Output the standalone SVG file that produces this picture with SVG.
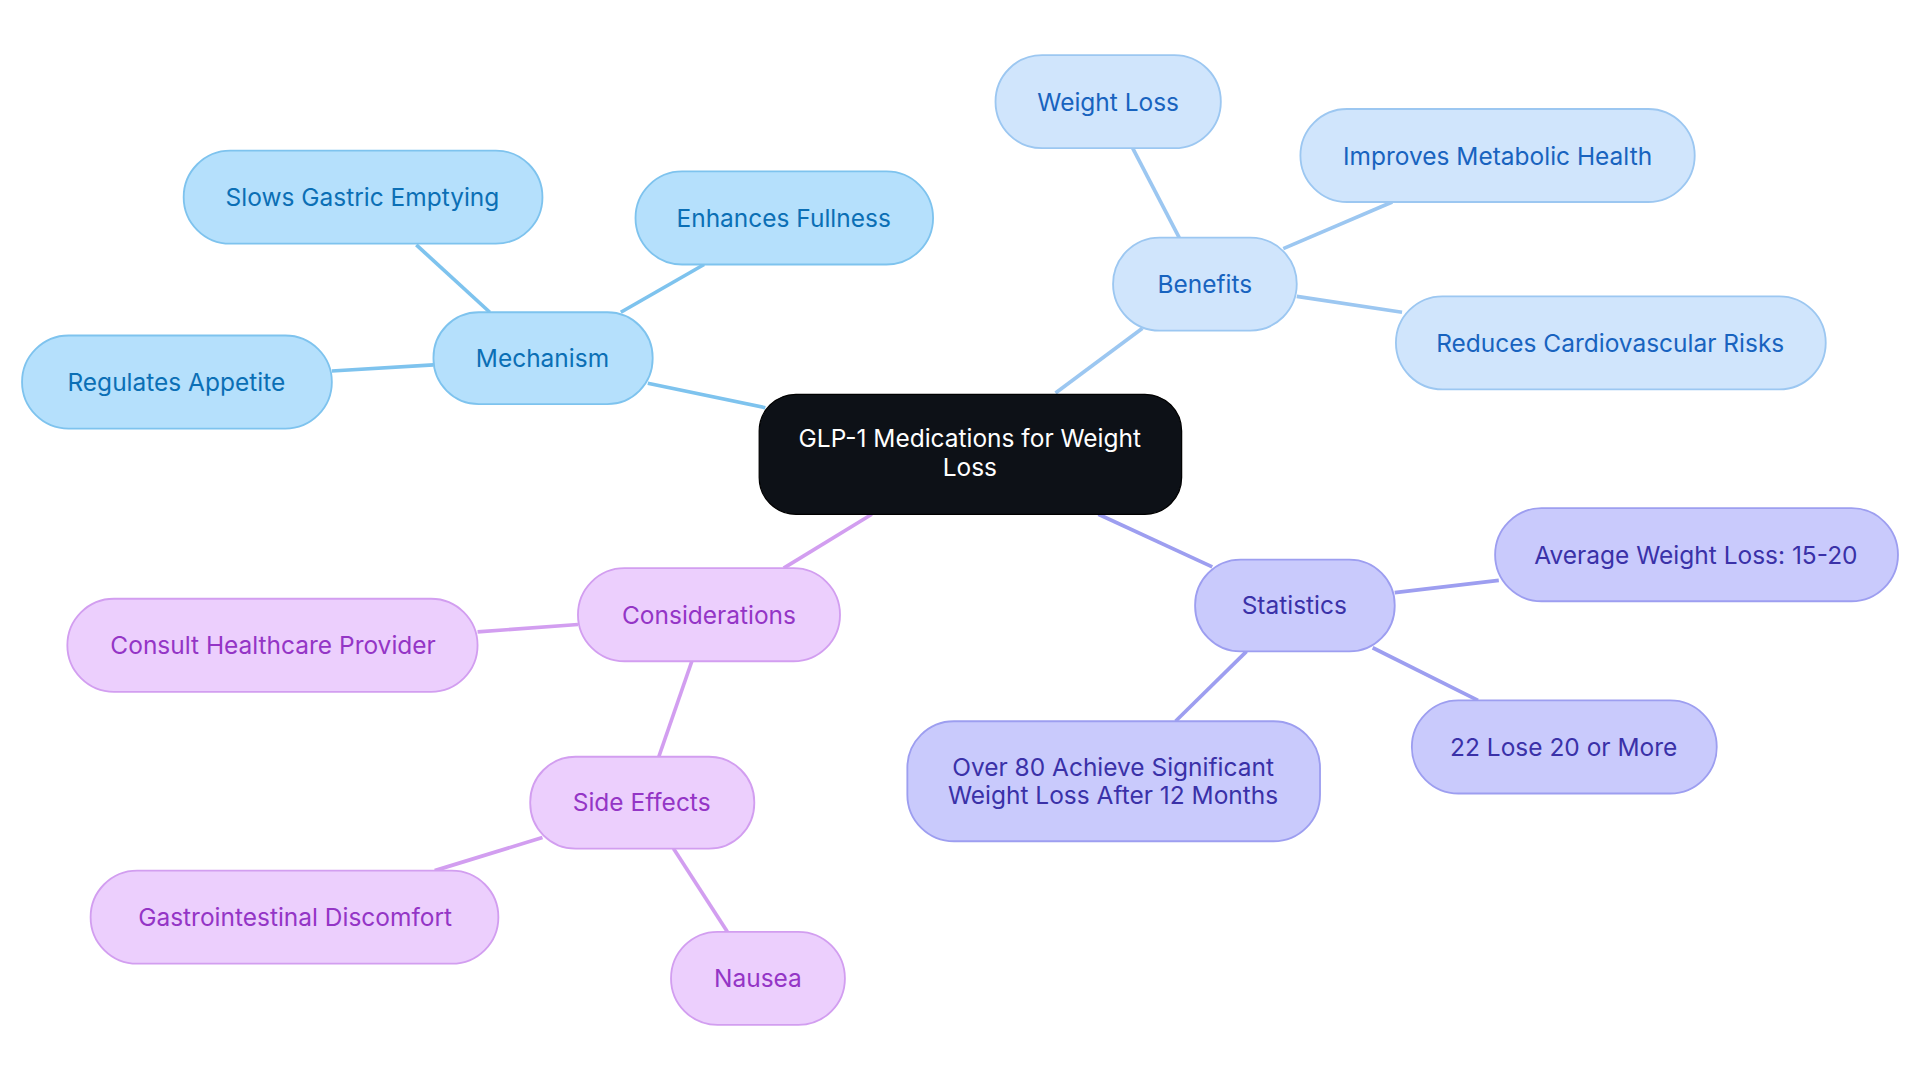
<svg xmlns="http://www.w3.org/2000/svg" width="1920" height="1083" viewBox="0 0 1920 1083">
<style>
text{font-family:Inter,"Noto Sans",sans-serif;font-size:20px;text-anchor:middle;dominant-baseline:central}
.b rect{fill:#b5e0fc;stroke:#7ec3ee;stroke-width:1.5}.b text{fill:#0b6fb5}
.l rect{fill:#d0e5fc;stroke:#9cc7f1;stroke-width:1.5}.l text{fill:#1863bf}
.s rect{fill:#c9cafc;stroke:#9d9ef0;stroke-width:1.5}.s text{fill:#3a31a8}
.p rect{fill:#eccffd;stroke:#d29ef0;stroke-width:1.5}.p text{fill:#9435c6}
#edges line{stroke-width:3}
.eb{stroke:#7ec3ee}.el{stroke:#9cc7f1}.es{stroke:#9d9ef0}.ep{stroke:#d29ef0}
</style>
<rect width="1920" height="1083" fill="#fff"/>
<g transform="scale(1.2245)">
<g id="edges">
<line class="eb" x1="625" y1="333" x2="529" y2="313"/>
<line class="eb" x1="400" y1="255" x2="340" y2="200"/>
<line class="eb" x1="507" y1="255" x2="575" y2="216"/>
<line class="eb" x1="354" y1="298" x2="271" y2="303"/>
<line class="el" x1="862" y1="321" x2="933" y2="268"/>
<line class="el" x1="963" y1="194" x2="925" y2="121"/>
<line class="el" x1="1048" y1="203" x2="1137" y2="165"/>
<line class="el" x1="1059" y1="242" x2="1145" y2="255"/>
<line class="es" x1="897" y1="420" x2="990" y2="463"/>
<line class="es" x1="1139" y1="484" x2="1224" y2="474"/>
<line class="es" x1="1121" y1="529" x2="1207" y2="572"/>
<line class="es" x1="1018" y1="532" x2="960" y2="589"/>
<line class="ep" x1="712" y1="420" x2="640" y2="464"/>
<line class="ep" x1="472" y1="510" x2="390" y2="516"/>
<line class="ep" x1="565" y1="540" x2="538" y2="618"/>
<line class="ep" x1="443" y1="684" x2="355" y2="711"/>
<line class="ep" x1="550" y1="693" x2="594" y2="761"/>
</g>
<g id="center"><rect x="620" y="322" width="345" height="98" rx="30" fill="#0d1117" stroke="#000"/><text x="792" y="358" fill="#fff">GLP-1 Medications for Weight</text><text x="792" y="381" fill="#fff">Loss</text></g>
<g id="mechanism" class="b"><rect x="354" y="255" width="179" height="75" rx="37"/><text x="443" y="292">Mechanism</text></g>
<g id="slows" class="b"><rect x="150" y="123" width="293" height="76" rx="38"/><text x="296" y="161">Slows Gastric Emptying</text></g>
<g id="enhances" class="b"><rect x="519" y="140" width="243" height="76" rx="38"/><text x="640" y="178">Enhances Fullness</text></g>
<g id="regulates" class="b"><rect x="18" y="274" width="253" height="76" rx="38"/><text x="144" y="312">Regulates Appetite</text></g>
<g id="benefits" class="l"><rect x="909" y="194" width="150" height="76" rx="38"/><text x="984" y="232">Benefits</text></g>
<g id="weightloss" class="l"><rect x="813" y="45" width="184" height="76" rx="38"/><text x="905" y="83">Weight Loss</text></g>
<g id="metabolic" class="l"><rect x="1062" y="89" width="322" height="76" rx="38"/><text x="1223" y="127">Improves Metabolic Health</text></g>
<g id="cardio" class="l"><rect x="1140" y="242" width="351" height="76" rx="38"/><text x="1315" y="280">Reduces Cardiovascular Risks</text></g>
<g id="statistics" class="s"><rect x="976" y="457" width="163" height="75" rx="37"/><text x="1057" y="494">Statistics</text></g>
<g id="average" class="s"><rect x="1221" y="415" width="329" height="76" rx="38"/><text x="1385" y="453">Average Weight Loss: 15-20</text></g>
<g id="lose22" class="s"><rect x="1153" y="572" width="249" height="76" rx="38"/><text x="1277" y="610">22 Lose 20 or More</text></g>
<g id="over80" class="s"><rect x="741" y="589" width="337" height="98" rx="38"/><text x="909" y="626">Over 80 Achieve Significant</text><text x="909" y="649">Weight Loss After 12 Months</text></g>
<g id="considerations" class="p"><rect x="472" y="464" width="214" height="76" rx="38"/><text x="579" y="502">Considerations</text></g>
<g id="consult" class="p"><rect x="55" y="489" width="335" height="76" rx="38"/><text x="223" y="527">Consult Healthcare Provider</text></g>
<g id="sideeffects" class="p"><rect x="433" y="618" width="183" height="75" rx="37"/><text x="524" y="655">Side Effects</text></g>
<g id="gi" class="p"><rect x="74" y="711" width="333" height="76" rx="38"/><text x="241" y="749">Gastrointestinal Discomfort</text></g>
<g id="nausea" class="p"><rect x="548" y="761" width="142" height="76" rx="38"/><text x="619" y="799">Nausea</text></g>
</g>
</svg>
